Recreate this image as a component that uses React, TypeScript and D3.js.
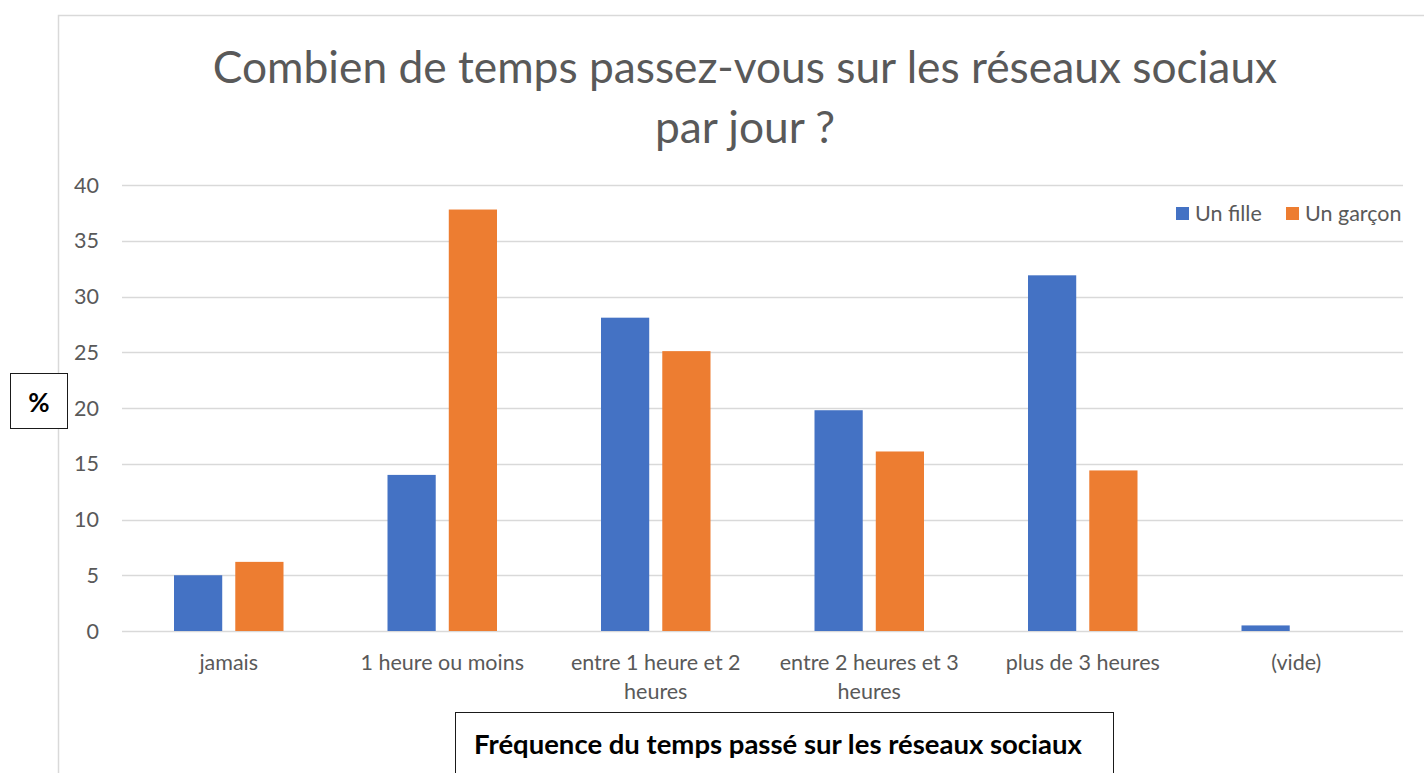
import * as d3 from "d3";
import { useRef, useEffect } from "react";

// catégories et valeurs (%)
const categories = [
  "jamais",
  "1 heure ou moins",
  "entre 1 heure et 2 heures",
  "entre 2 heures et 3 heures",
  "plus de 3 heures",
  "(vide)",
];
const categoryLines = [
  ["jamais"],
  ["1 heure ou moins"],
  ["entre 1 heure et 2", "heures"],
  ["entre 2 heures et 3", "heures"],
  ["plus de 3 heures"],
  ["(vide)"],
];
const fille = [5.0, 14.0, 28.1, 19.8, 31.9, 0.5];
const garcon = [6.2, 37.8, 25.1, 16.1, 14.4, 0];
const seriesNames = ["Un fille", "Un garçon"];
const seriesColors = ["#4472c4", "#ed7d31"];
const yTicks = [0, 5, 10, 15, 20, 25, 30, 35, 40];

const FONT = "Lato, 'Open Sans', sans-serif";

const W = 1424;
const H = 773;

const App = () => {
  const ref = useRef(null);

  useEffect(() => {
    const svg = d3.select(ref.current);
    svg.selectAll("*").remove();

    const margin = { top: 185, bottom: 142, left: 122, right: 21 };
    const plotW = W - margin.left - margin.right;
    const plotH = H - margin.top - margin.bottom;

    // cadre du graphique
    svg.append("rect")
      .attr("x", 58.5).attr("y", 15.5)
      .attr("width", W).attr("height", H)
      .attr("fill", "white")
      .attr("stroke", "#d9d9d9").attr("stroke-width", 1.5);

    // titre
    const title = svg.append("text")
      .attr("text-anchor", "middle")
      .attr("font-family", FONT)
      .attr("font-size", 44.3)
      .attr("fill", "#595959");
    title.append("tspan").attr("x", 745).attr("y", 83)
      .text("Combien de temps passez-vous sur les réseaux sociaux");
    title.append("tspan").attr("x", 745).attr("y", 143).text("par jour ?");

    const x = d3.scaleBand().domain(categories).range([0, plotW]).paddingInner(0).paddingOuter(0);
    const inner = d3.scaleBand().domain(seriesNames).range([52, x.bandwidth() - 52]).paddingInner(0.213);
    const y = d3.scaleLinear().domain([0, 40]).range([plotH, 0]);

    const g = svg.append("g").attr("transform", `translate(${margin.left}, ${margin.top})`);

    // grille
    g.selectAll(".grid")
      .data(yTicks)
      .enter()
      .append("line")
      .attr("x1", 0).attr("x2", plotW)
      .attr("y1", (d) => Math.round(y(d)) + 0.5)
      .attr("y2", (d) => Math.round(y(d)) + 0.5)
      .attr("stroke", "#d9d9d9").attr("stroke-width", 1.5);

    // axe Y
    g.selectAll(".ytick")
      .data(yTicks)
      .enter()
      .append("text")
      .attr("x", -23)
      .attr("y", (d) => y(d))
      .attr("dy", "0.35em")
      .attr("text-anchor", "end")
      .attr("font-family", FONT)
      .attr("font-size", 21.5)
      .attr("fill", "#595959")
      .text((d) => d);

    // barres
    const series = [fille, garcon];
    series.forEach((vals, si) => {
      g.selectAll(".bar-" + si)
        .data(vals)
        .enter()
        .append("rect")
        .attr("x", (d, i) => x(categories[i]) + inner(seriesNames[si]))
        .attr("y", (d) => y(d))
        .attr("width", inner.bandwidth())
        .attr("height", (d) => plotH - y(d))
        .attr("fill", seriesColors[si]);
    });

    // étiquettes X
    categoryLines.forEach((lines, i) => {
      const t = g.append("text")
        .attr("text-anchor", "middle")
        .attr("font-family", FONT)
        .attr("font-size", 21.5)
        .attr("fill", "#595959");
      lines.forEach((l, li) => {
        t.append("tspan")
          .attr("x", x(categories[i]) + x.bandwidth() / 2)
          .attr("y", plotH + 39 + li * 29)
          .text(l);
      });
    });

    // légende
    const legendX = [1176, 1286];
    seriesNames.forEach((name, i) => {
      svg.append("rect")
        .attr("x", legendX[i]).attr("y", 207)
        .attr("width", 13).attr("height", 13)
        .attr("fill", seriesColors[i]);
      svg.append("text")
        .attr("x", legendX[i] + 19).attr("y", 221)
        .attr("font-family", FONT)
        .attr("font-size", 21.5)
        .attr("fill", "#595959")
        .text(name);
    });

    // boîte "%"
    svg.append("rect")
      .attr("x", 10.5).attr("y", 373.5)
      .attr("width", 57).attr("height", 55)
      .attr("fill", "white").attr("stroke", "#1a1a1a").attr("stroke-width", 1);
    svg.append("text")
      .attr("x", 39).attr("y", 412)
      .attr("text-anchor", "middle")
      .attr("font-family", FONT)
      .attr("font-weight", "bold")
      .attr("font-size", 26)
      .attr("fill", "#000")
      .text("%");

    // boîte titre axe X
    svg.append("rect")
      .attr("x", 455.5).attr("y", 712.5)
      .attr("width", 658).attr("height", 80)
      .attr("fill", "white").attr("stroke", "#1a1a1a").attr("stroke-width", 1);
    svg.append("text")
      .attr("x", 778).attr("y", 754)
      .attr("text-anchor", "middle")
      .attr("font-family", FONT)
      .attr("font-weight", "bold")
      .attr("font-size", 27.5)
      .attr("fill", "#000")
      .text("Fréquence du temps passé sur les réseaux sociaux");
  }, []);

  return (
    <svg
      ref={ref}
      width={W}
      height={H}
      style={{ position: "absolute", left: 0, top: 0, background: "white" }}
    ></svg>
  );
};

export default App;
